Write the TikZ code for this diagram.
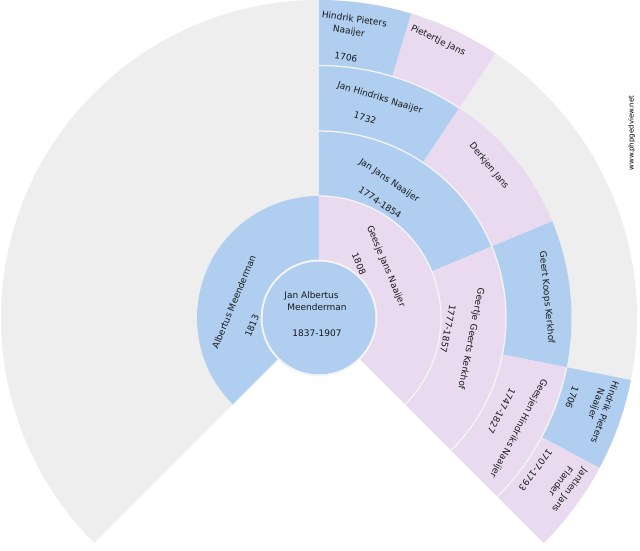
\documentclass[tikz,border=0pt]{standalone}
\usepackage{fontspec}
\setmainfont{DejaVu Sans}
\definecolor{mblue}{HTML}{B0CEF0}
\definecolor{fpink}{HTML}{E9DAF0}
\definecolor{bggray}{HTML}{EEEEEE}
\definecolor{sepcol}{HTML}{F4F4F4}
\newcommand{\fanseg}[5]{\fill[#1] (#2:#4pt) arc[start angle=#2,end angle=#3,radius=#4pt] -- (#3:#5pt) arc[start angle=#3,end angle=#2,radius=#5pt] -- cycle;}
\newcommand{\separc}[3]{\draw[sep] (#1:#3pt) arc[start angle=#1,end angle=#2,radius=#3pt];}
\begin{document}
\begin{tikzpicture}[x=1pt,y=1pt,
  lbl/.style={font=\fontsize{9}{10}\selectfont, inner sep=0pt, text height=6.5pt, text depth=0pt, text=black!90},
  wm/.style={font=\fontsize{7}{8}\selectfont, inner sep=0pt, text height=5pt, text depth=0pt, text=black},
  sep/.style={draw=sepcol, line width=1.3pt}]
\useasboundingbox (-319,-232) rectangle (321,318);
\fill[white] (-319,-232) rectangle (321,318);
% background fan
\fill[bggray] (0,0) -- (225:318pt) arc[start angle=225,end angle=-45,radius=318pt] -- cycle;
% ring 1
\fanseg{mblue}{90}{225}{57}{122}
\fanseg{fpink}{-45}{90}{57}{122}
% ring 2
\fanseg{mblue}{22.5}{90}{122}{187}
\fanseg{fpink}{-45}{22.5}{122}{187}
% ring 3
\fanseg{mblue}{56.25}{90}{187}{252.5}
\fanseg{fpink}{22.5}{56.25}{187}{252.5}
\fanseg{mblue}{-11.25}{22.5}{187}{252.5}
\fanseg{fpink}{-45}{-11.25}{187}{252.5}
% ring 4
\fanseg{mblue}{73.125}{90}{252.5}{318}
\fanseg{fpink}{56.25}{73.125}{252.5}{318}
\fanseg{mblue}{-28.125}{-11.25}{252.5}{318}
\fanseg{fpink}{-45}{-28.125}{252.5}{318}
% separators
\separc{-45}{90}{122}
\separc{-45}{90}{187}
\separc{56.25}{90}{252.5}
\separc{-45}{-11.25}{252.5}
% centre
\fill[mblue] (0,0) circle[radius=56.5pt];
\draw[sep, line width=1.8pt] (0,0) circle[radius=57.5pt];
% centre text
\node[lbl] (c1) at (-7.5,22.3) {Jan Albertus};
\node[lbl] (c2) at (-2,10.3) {Meenderman};
\node[lbl] (c3) at (-2,-15.7) {1837-1907};
% ring 1 text
\node[lbl, rotate=67.5] (f1) at (-85,16) {Albertus Meenderman};
\node[lbl, rotate=67.5] (f1d) at (-67,-8) {1813};
\node[lbl, rotate=-67.5] (m1) at (67.5,52) {Geesje Jans Naaijer};
\node[lbl, rotate=-67.5] (m1d) at (40,54) {1808};
% ring 2 text
\node[lbl, rotate=-33.75] (mf) at (70.5,138) {Jan Jans Naaijer};
\node[lbl, rotate=-33.75] (mfd) at (61,115.5) {1774-1854};
\node[lbl, rotate=-101.25] (mm) at (152.5,-21) {Geertje Geerts Kerkhof};
\node[lbl, rotate=-101.25] (mmd) at (129,-11) {1777-1857};
% ring 3 text
\node[lbl, rotate=-16.875] (mff) at (61,220.5) {Jan Hindriks Naaijer};
\node[lbl, rotate=-16.875] (mffd) at (46,200) {1732};
\node[lbl, rotate=-50.625] (mfm) at (170.5,152.5) {Derkjen Jans};
\node[lbl, rotate=-84.375] (mmf) at (228.5,20.5) {Geert Koops Kerkhof};
\node[lbl, rotate=-118.125] (mmm) at (200,-110.5) {Geesjen Hindriks Naaijer};
\node[lbl, rotate=-118.125] (mmmd) at (182.5,-93) {1747-1827};
% ring 4 text
\node[lbl, rotate=-8.4375] (mfff) at (35.5,299) {Hindrik Pieters};
\node[lbl, rotate=-8.4375] (mfff2) at (30,287) {Naaijer};
\node[lbl, rotate=-8.4375] (mfffd) at (27,261) {1706};
\node[lbl, rotate=-25.3125] (mffm) at (119.5,278) {Pietertje Jans};
\node[lbl, rotate=-109.6875] (mmmf) at (286,-94.5) {Hindrik Pieters};
\node[lbl, rotate=-109.6875] (mmmf2) at (277.5,-86) {Naaijer};
\node[lbl, rotate=-109.6875] (mmmfd) at (253,-79.5) {1706};
\node[lbl, rotate=-126.5625] (mmmm) at (251,-172.5) {Jantien Jans};
\node[lbl, rotate=-126.5625] (mmmm2) at (242,-163.5) {Flander};
\node[lbl, rotate=-126.5625] (mmmmd) at (216.5,-152) {1707-1793};
% watermark
\node[wm, rotate=90] (wmk) at (312,185) {www.phpgedview.net};
\end{tikzpicture}
\end{document}
